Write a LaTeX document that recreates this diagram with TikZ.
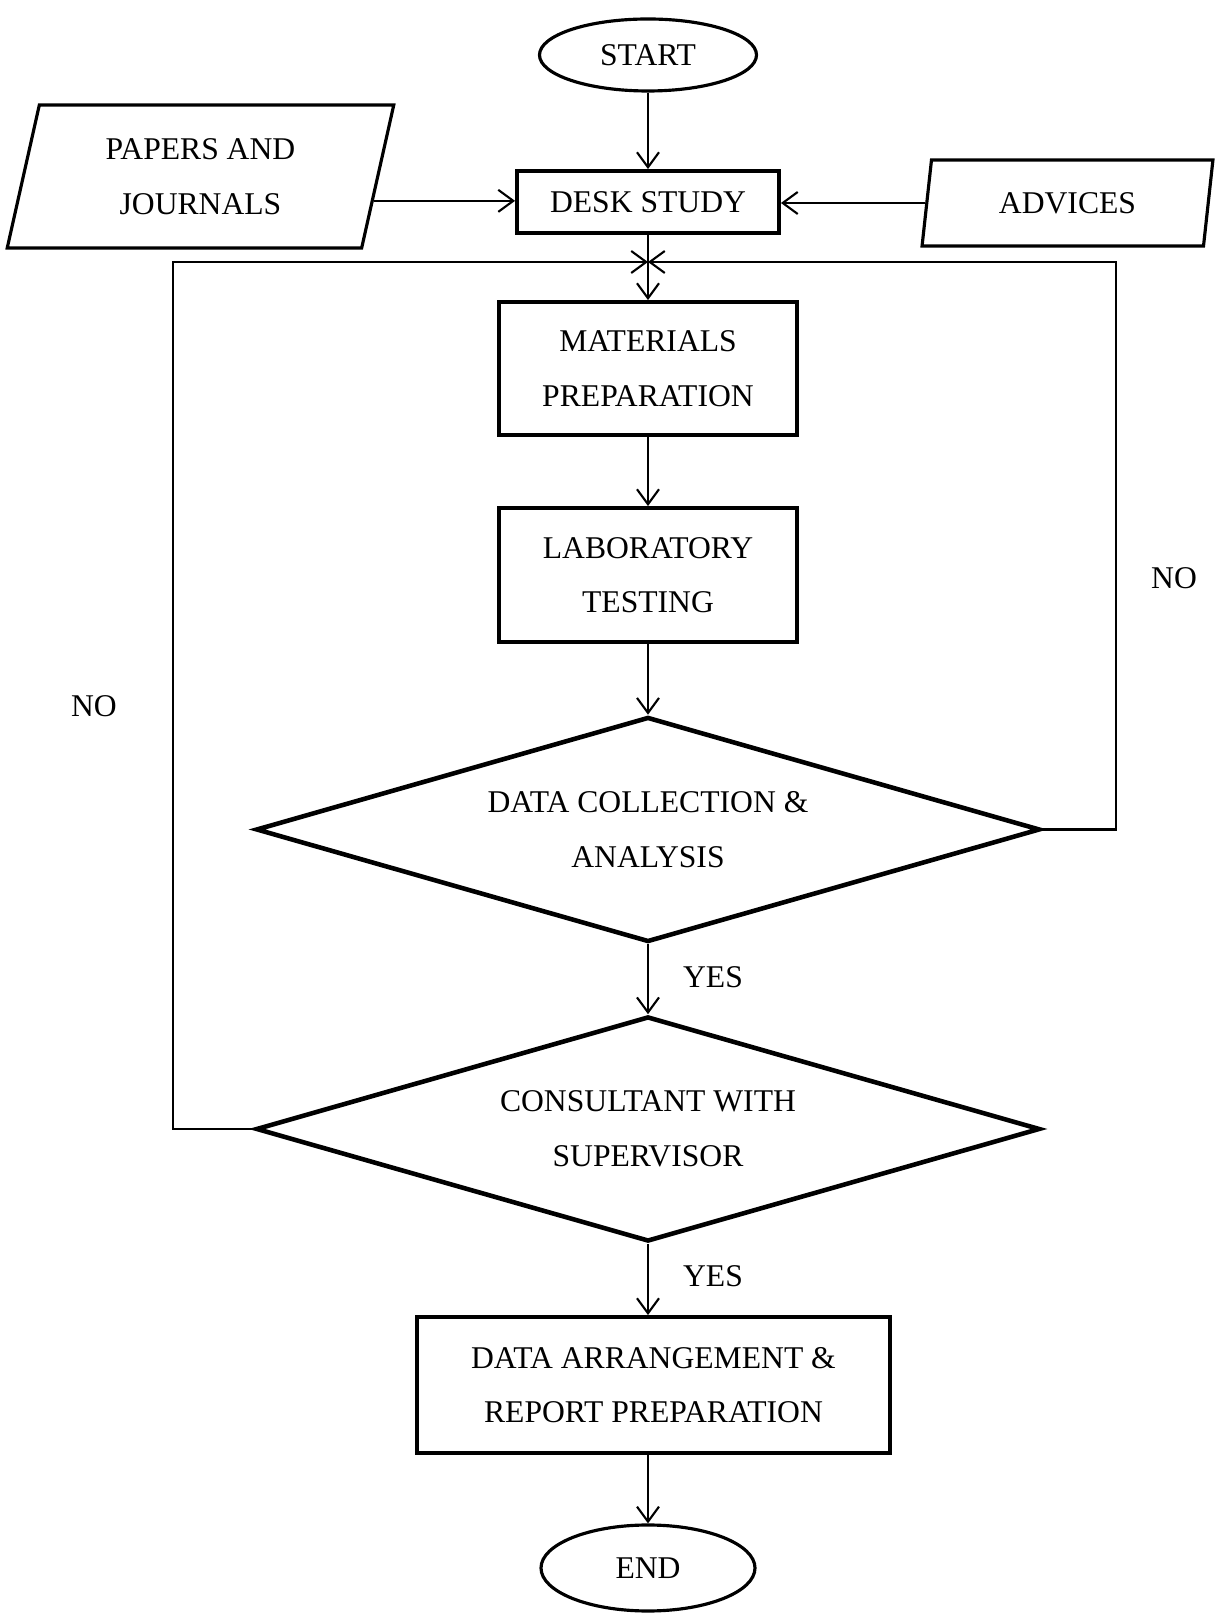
\documentclass[tikz,border=0pt]{standalone}
\usepackage{fontspec}
\setmainfont{Liberation Serif}
\usetikzlibrary{shapes.geometric,arrows.meta}
\begin{document}
\begin{tikzpicture}[font=\fontsize{18}{31}\selectfont,
	terminal/.style={ellipse,draw,line width=1.8pt,minimum width=4.34cm,minimum height=1.44cm,inner sep=0pt},
	process/.style={rectangle,draw,line width=2.2pt,align=center,inner sep=0pt},
	inout/.style={trapezium,trapezium stretches=true,draw,line width=1.8pt,align=center,inner sep=0pt},
	decision/.style={diamond,aspect=3.48,draw,line width=2.6pt,align=center,minimum width=15.68cm,minimum height=4.5cm,inner sep=0pt},
	arr/.style={-{Straight Barb[length=3mm,width=4.4mm,line width=1.2pt]},line width=1.2pt},
	loop/.style={arr,line width=1.6pt}]
	\useasboundingbox (0,0) rectangle (24.4,32.26);
	\node (start) at (12.96,31.16) [terminal] {START};
	\node (desk) at (12.96,28.22) [process,minimum width=5.24cm,minimum height=1.24cm] {DESK STUDY};
	\node (papers) at (4.01,28.73) [inout,trapezium left angle=76,trapezium right angle=104,minimum width=7.74cm,minimum height=2.86cm] {PAPERS AND\\JOURNALS};
	\node (advices) at (21.35,28.2) [inout,trapezium left angle=77.5,trapezium right angle=102.5,minimum width=5.86cm,minimum height=1.72cm] {ADVICES};
	\node (materials) at (12.96,24.89) [process,minimum width=5.96cm,minimum height=2.66cm] {MATERIALS\\PREPARATION};
	\node (lab) at (12.96,20.76) [process,minimum width=5.96cm,minimum height=2.68cm] {LABORATORY\\TESTING};
	\node (data) at (12.96,15.67) [decision] {DATA COLLECTION \&\\ANALYSIS};
	\node (consult) at (12.96,9.68) [decision] {CONSULTANT WITH\\SUPERVISOR};
	\node (report) at (13.07,4.56) [process,minimum width=9.46cm,minimum height=2.72cm] {DATA ARRANGEMENT \&\\REPORT PREPARATION};
	\node (end) at (12.96,0.9) [terminal,minimum width=4.28cm,minimum height=1.72cm] {END};
	
	\node (yes1) at (14.26,12.72) {YES};
	\node (yes2) at (14.26,6.74) {YES};
	\node (noleft) at (1.88,18.14) {NO};
	\node (noright) at (23.48,20.7) {NO};
	
	\coordinate (join) at (12.96,27.02);
	\coordinate (leftloop) at (3.46,27.02);
	\coordinate (rightloop) at (22.32,27.02);
	
	\draw[arr] (start) -- (desk);
	\draw[arr] (papers.-8) -- (papers.-8 -| desk.west);
	\draw[arr] (advices.west) -- (advices.west -| desk.east);
	\draw[arr] (desk) -- (materials);
	\draw[arr] (materials) -- (lab);
	\draw[arr] (lab) -- (data);
	\draw[arr] (data) -- (consult);
	\draw[arr] (consult.south) -- (consult.south |- report.north);
	\draw[arr] (consult.south |- report.south) -- (end);
	\draw[loop] (consult.west) -| (leftloop) -- (join);
	\draw[loop] (data.east) -| (rightloop) -- (join);
\end{tikzpicture}
\end{document}
